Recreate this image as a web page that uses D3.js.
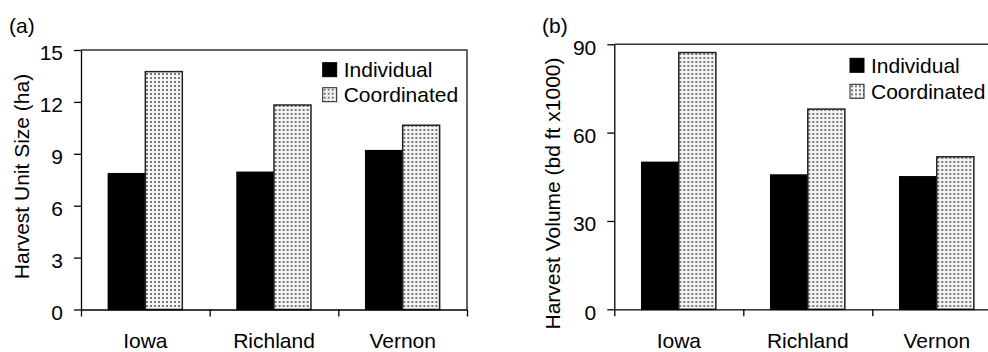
<!DOCTYPE html>
<html>
<head>
<meta charset="utf-8">
<script src="https://cdn.jsdelivr.net/npm/d3@7"></script>
<style>
  body { margin: 0; background: #fff; overflow: hidden; }
  svg { display: block; font-family: "Liberation Sans", Arial, sans-serif; }
</style>
</head>
<body>
<svg id="chart"></svg>
<script>
const counties = ["Iowa", "Richland", "Vernon"];
const seriesNames = ["Individual", "Coordinated"];

// (a) harvest unit size, ha
const sizeIndividual = [7.85, 7.93, 9.18];
const sizeCoordinated = [13.75, 11.82, 10.65];
const sizeTicks = [0, 3, 6, 9, 12, 15];

// (b) harvest volume, bd ft x1000
const volIndividual = [49.9, 45.6, 45.0];
const volCoordinated = [87.2, 68.0, 51.8];
const volTicks = [0, 30, 60, 90];

const W = 988, H = 352;
const svg = d3.select("#chart").attr("width", W).attr("height", H);

// stipple fill for the coordinated bars
const pat = svg.append("defs").append("pattern")
  .attr("id", "dots")
  .attr("patternUnits", "userSpaceOnUse")
  .attr("width", 4)
  .attr("height", 4);
pat.append("rect").attr("width", 4).attr("height", 4).attr("fill", "#f4f4f4");
pat.append("rect").attr("x", 1).attr("y", 1).attr("width", 2).attr("height", 2).attr("fill", "#7a7a7a");

const panels = [
  {
    tag: "(a)", tagX: 9,
    title: "Harvest Unit Size (ha)", titleX: 29, titleY: 176.5,
    left: 81, right: 467, top: 50, bottom: 309.5,
    max: 15, ticks: sizeTicks,
    values: [sizeIndividual, sizeCoordinated],
    legX: 322.7, legY: 62.7, legGap: 25
  },
  {
    tag: "(b)", tagX: 542,
    title: "Harvest Volume (bd ft x1000)", titleX: 560, titleY: 193.5,
    left: 614.3, right: 1001.3, top: 44.3, bottom: 309.3,
    max: 90, ticks: volTicks,
    values: [volIndividual, volCoordinated],
    legX: 850, legY: 58.3, legGap: 26
  }
];

panels.forEach((p) => {
  const g = svg.append("g");

  const x0 = d3.scaleBand().domain(counties).range([p.left, p.right]).padding(0);
  const x1 = d3.scaleBand().domain(seriesNames).range([0, x0.bandwidth()])
    .paddingInner(0).paddingOuter(0.74);
  const y = d3.scaleLinear().domain([0, p.max]).range([p.bottom, p.top]);
  const edges = d3.scaleLinear().domain([0, counties.length]).range([p.left, p.right]);

  // frame on top (and right, when it falls inside the picture)
  const frame = p.right < W
    ? `M${p.left},${p.top}H${p.right}V${p.bottom}`
    : `M${p.left},${p.top}H${W}`;
  g.append("path")
    .attr("d", frame)
    .attr("fill", "none")
    .attr("stroke", "#333")
    .attr("stroke-width", 1.5);

  // bars
  const rows = counties.map((c, i) => seriesNames.map((s, j) => ({ county: c, series: s, value: p.values[j][i] })));
  g.selectAll(".grp")
    .data(rows)
    .enter()
    .append("g")
    .attr("transform", (d) => `translate(${x0(d[0].county)},0)`)
    .selectAll("rect")
    .data((d) => d)
    .enter()
    .append("rect")
    .attr("x", (d) => x1(d.series))
    .attr("y", (d) => y(d.value))
    .attr("width", x1.bandwidth())
    .attr("height", (d) => y(0) - y(d.value))
    .attr("fill", (d) => d.series === "Individual" ? "#000" : "url(#dots)")
    .attr("stroke", (d) => d.series === "Individual" ? "#000" : "#222")
    .attr("stroke-width", 1.5);

  // y axis
  const ya = g.append("g")
    .attr("transform", `translate(${p.left},0)`)
    .call(d3.axisLeft(y).tickValues(p.ticks).tickSize(7).tickSizeOuter(0).tickPadding(11));
  ya.selectAll("text").attr("font-size", 21).attr("font-family", null).attr("dy", "0.47em").attr("fill", "#000");
  ya.selectAll("line, path").attr("stroke", "#000").attr("stroke-width", 1.3);

  // x axis: boundary ticks + county labels
  const xa = g.append("g")
    .attr("transform", `translate(0,${p.bottom})`)
    .call(d3.axisBottom(edges).tickValues(d3.range(counties.length + 1)).tickFormat("").tickSize(7).tickSizeOuter(0));
  xa.selectAll("line, path").attr("stroke", "#000").attr("stroke-width", 1.3);

  const xl = g.append("g")
    .attr("transform", `translate(0,${p.bottom})`)
    .call(d3.axisBottom(x0).tickSize(0).tickPadding(23.5));
  xl.select(".domain").remove();
  xl.selectAll("text").attr("font-size", 21).attr("font-family", null).attr("fill", "#000");

  // axis title
  g.append("text")
    .attr("transform", `translate(${p.titleX},${p.titleY}) rotate(-90)`)
    .attr("text-anchor", "middle")
    .attr("font-size", 21)
    .text(p.title);

  // panel tag
  g.append("text")
    .attr("x", p.tagX)
    .attr("y", 33)
    .attr("font-size", 21)
    .text(p.tag);

  // legend
  const leg = g.selectAll(".leg")
    .data(seriesNames)
    .enter()
    .append("g")
    .attr("transform", (d, i) => `translate(${p.legX},${p.legY + i * p.legGap})`);
  leg.append("rect")
    .attr("width", 14)
    .attr("height", 14)
    .attr("fill", (d) => d === "Individual" ? "#000" : "url(#dots)")
    .attr("stroke", (d) => d === "Individual" ? "#000" : "#222")
    .attr("stroke-width", 1);
  leg.append("text")
    .attr("x", 21)
    .attr("y", 14.6)
    .attr("font-size", 21)
    .text((d) => d);
});
</script>
</body>
</html>
